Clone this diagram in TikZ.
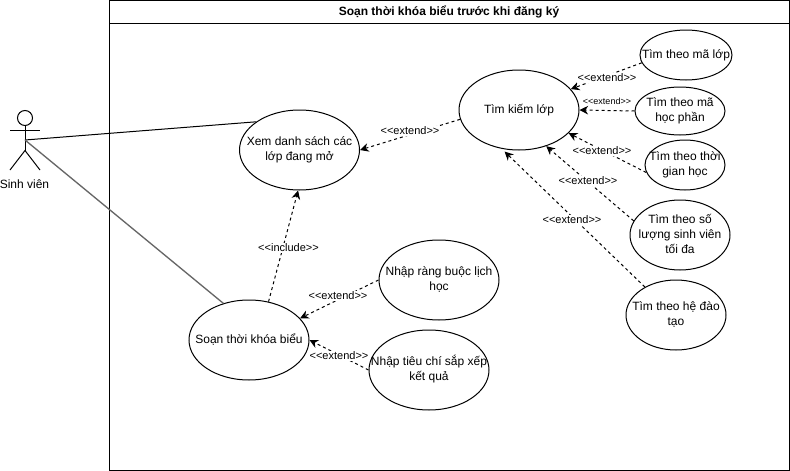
\documentclass[tikz,border=0pt]{standalone}
\usepackage{fontspec}
\setmainfont{Liberation Sans}
\usetikzlibrary{arrows.meta,shapes.geometric}
\newcommand{\uctext}[1]{\raisebox{-1pt}{\makebox[0pt]{\begin{tabular}{@{}c@{}}#1\end{tabular}}}}
\tikzset{
	usecase/.style={draw,ellipse,inner sep=0pt,line width=0.75pt,fill=white,font=\fontsize{9}{11.25}\selectfont},
	extendline/.style={draw,dashed,dash pattern=on 2.25pt off 2.25pt,line width=0.75pt,-{Stealth[length=6.5pt,width=6.5pt]}},
	extendlabel/.style={fill=white,inner sep=0.5pt,font=\fontsize{8.25}{10}\selectfont},
	assoc/.style={line width=0.75pt}
}
\begin{document}
\begin{tikzpicture}[x=0.75pt,y=-0.75pt]
		\path[use as bounding box,fill=white] (0,0) rectangle (790,471);
		% frame
		\draw[line width=0.75pt] (109.5,0.5) rectangle (789,470);
		\draw[line width=0.75pt] (109.5,23.5)--(789,23.5);
		\node (boxtitle) at (449,11.5) [font=\bfseries\fontsize{9}{11}\selectfont]{Soạn thời khóa biểu trước khi đăng ký};
		% actor
		\node (head) at (25,118) [draw,circle,inner sep=0pt,minimum size=11.25pt,line width=0.75pt]{};
		\coordinate (hip) at (25,150.5);
		\coordinate (handl) at (10,130);
		\coordinate (handr) at (40,130);
		\coordinate (footl) at (10,170);
		\coordinate (footr) at (40,170);
		\coordinate (chest) at (25,140);
		\draw[line width=0.75pt] (head.south)--(hip);
		\draw[line width=0.75pt] (handl)--(handr);
		\draw[line width=0.75pt] (footl)--(hip)--(footr);
		\node (sinhvien) at (24.5,184) [font=\fontsize{9}{11}\selectfont]{Sinh viên};
		% use cases
		\node (xemds) at (299.5,150) [usecase,minimum width=90pt,minimum height=60pt]{\uctext{Xem danh sách các\\lớp đang mở}};
		\node (soantkb) at (249,340) [usecase,minimum width=90pt,minimum height=60pt]{\uctext{Soạn thời khóa biểu}};
		\node (rangbuoc) at (439,280) [usecase,minimum width=90pt,minimum height=60pt]{\uctext{Nhập ràng buộc lịch\\học}};
		\node (tieuchi) at (429,370) [usecase,minimum width=90pt,minimum height=60pt]{\uctext{Nhập tiêu chí sắp xếp\\kết quả}};
		\node (timkiem) at (519,110) [usecase,minimum width=90pt,minimum height=60pt]{\uctext{Tìm kiếm lớp}};
		\node (malop) at (686,55) [usecase,minimum width=69pt,minimum height=37.5pt]{\uctext{Tìm theo mã lớp}};
		\node (mahp) at (680,111) [usecase,minimum width=67.5pt,minimum height=36pt]{\uctext{Tìm theo mã\\học phần}};
		\node (thoigian) at (685,165) [usecase,minimum width=60pt,minimum height=37.5pt]{\uctext{Tìm theo thời\\gian học}};
		\node (soluong) at (680,235) [usecase,minimum width=75pt,minimum height=52.5pt]{\uctext{Tìm theo số\\lượng sinh viên\\tối đa}};
		\node (hedao) at (676,315) [usecase,minimum width=75pt,minimum height=52.5pt]{\uctext{Tìm theo hệ đào\\tạo}};
		% connectors
		\draw[assoc] (chest)--(xemds.147);
		\draw[assoc,draw=black!60,line width=1pt] (chest)--(soantkb.125);
		\draw[extendline] (soantkb.63)--(xemds.268);
		\draw[extendline] (rangbuoc.west)--(soantkb.23);
		\draw[extendline] (tieuchi.west)--(soantkb.east);
		\draw[extendline] (timkiem.189)--(xemds.east);
		\draw[extendline] (malop.190)--(timkiem.22);
		\draw[extendline] (mahp.west)--(timkiem.east);
		\draw[extendline] (thoigian.191)--(timkiem.-25);
		\draw[extendline] (soluong.163)--(timkiem.-53);
		\draw[extendline,shorten >=3pt] (hedao.138)--(timkiem.-114);
		% labels
		\node (lblinclude) at (288.5,248) [extendlabel]{<{}<include>{}>};
		\node (lblxem) at (410,131) [extendlabel]{<{}<extend>{}>};
		\node (lblmalop) at (607,78) [extendlabel]{<{}<extend>{}>};
		\node (lblmahp) at (607,101) [extendlabel,font=\fontsize{6.75}{8}\selectfont]{<{}<extend>{}>};
		\node (lblthoigian) at (602,151) [extendlabel]{<{}<extend>{}>};
		\node (lblsoluong) at (588,181) [extendlabel]{<{}<extend>{}>};
		\node (lblhedao) at (572,220) [extendlabel]{<{}<extend>{}>};
		\node (lblrangbuoc) at (338,296) [extendlabel]{<{}<extend>{}>};
		\node (lbltieuchi) at (339,356) [extendlabel]{<{}<extend>{}>};
\end{tikzpicture}
\end{document}
